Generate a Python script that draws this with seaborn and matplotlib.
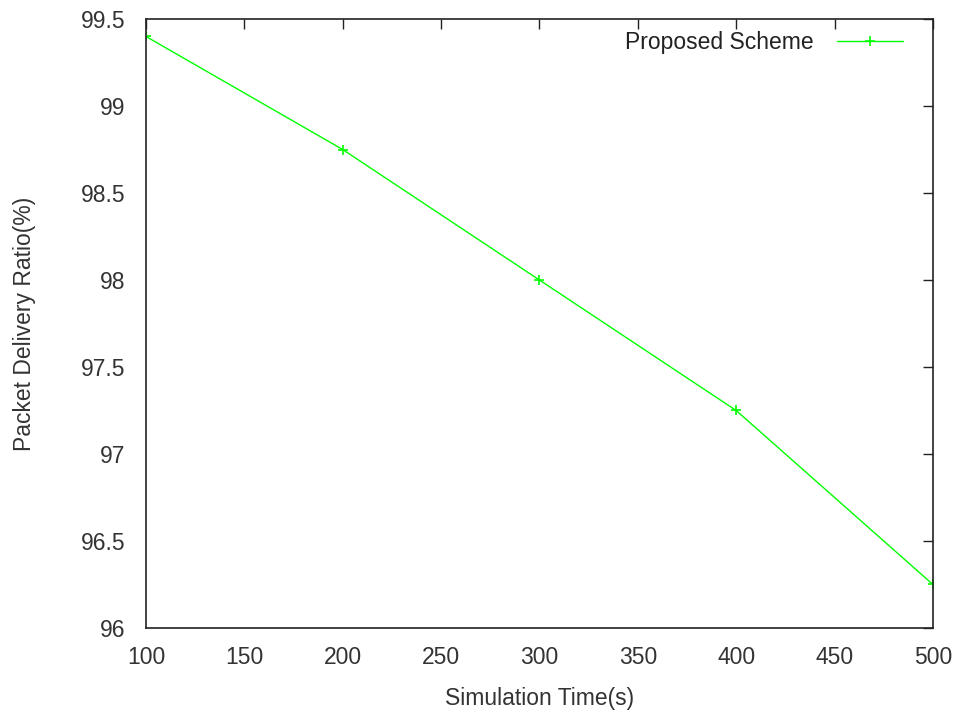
import matplotlib
matplotlib.use("Agg")
import matplotlib.pyplot as plt
import seaborn as sns
import pandas as pd

sim_time = [100, 200, 300, 400, 500]
pdr = [99.4, 98.75, 98.0, 97.25, 96.25]
x_ticks = [100, 150, 200, 250, 300, 350, 400, 450, 500]
y_ticks = [96, 96.5, 97, 97.5, 98, 98.5, 99, 99.5]
y_ticklabels = ["96", "96.5", "97", "97.5", "98", "98.5", "99", "99.5"]

sns.set_theme(style="white")
plt.rcParams["font.family"] = ["Liberation Sans", "DejaVu Sans"]

df = pd.DataFrame({"Simulation Time(s)": sim_time, "Packet Delivery Ratio(%)": pdr})

FS = 16.5
fig = plt.figure(figsize=(9.6, 7.15), dpi=100)
ax = fig.add_axes([0.152, 0.1217, 0.8198, 0.8517])

sns.lineplot(data=df, x="Simulation Time(s)", y="Packet Delivery Ratio(%)", ax=ax,
             color="#00ff00", linewidth=1.0, marker="+", markersize=7,
             markeredgewidth=1.2, markeredgecolor="#00ff00", label="Proposed Scheme")

ax.set_xlim(100, 500)
ax.set_ylim(96, 99.5)
ax.set_xticks(x_ticks)
ax.set_xticklabels([str(t) for t in x_ticks])
ax.set_yticks(y_ticks)
ax.set_yticklabels(y_ticklabels)

for s in ax.spines.values():
    s.set_color("#222222")
    s.set_linewidth(1.2)
ax.tick_params(direction="in", length=7, width=1.0, color="#222222",
               top=True, right=True, labelsize=FS, labelcolor="#333333")
ax.tick_params(axis="x", pad=13)
ax.tick_params(axis="y", pad=15)
ax.set_xlabel("Simulation Time(s)", fontsize=FS, color="#333333", labelpad=13)
ax.set_ylabel("Packet Delivery Ratio(%)", fontsize=FS, color="#333333", labelpad=32)
ax.grid(False)

leg = ax.legend(loc="upper right", bbox_to_anchor=(0.962, 0.98), frameon=False,
                markerfirst=False, fontsize=FS, handlelength=2.9,
                borderaxespad=0.0, borderpad=0.0, handletextpad=1.0)
for t in leg.get_texts():
    t.set_color("#222222")

fig.savefig("out.png", dpi=100)
